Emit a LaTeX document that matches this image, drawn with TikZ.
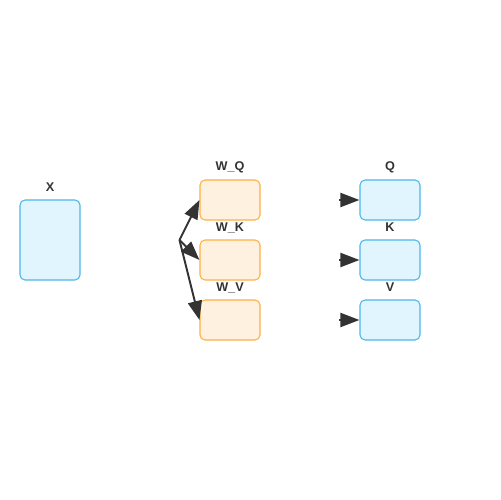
\documentclass[tikz,border=0pt]{standalone}
\usepackage{fontspec}
\setsansfont{Liberation Sans}
\usetikzlibrary{calc,arrows.meta}
\definecolor{inblue}{HTML}{4DB6E8}
\definecolor{infill}{HTML}{E1F5FE}
\definecolor{worange}{HTML}{FFAE42}
\definecolor{wfill}{HTML}{FFF1DF}
\definecolor{ink}{HTML}{333333}
\begin{document}
\begin{tikzpicture}[x=0.02cm, y=-0.02cm,
        flow/.style={draw=ink, line width=0.11em, -{Triangle[length=0.38cm,width=0.28cm]}},
    ]
    \useasboundingbox (0,0) rectangle (500,500);
    % input and outputs (blue)
    \tikzstyle{vec}=[draw=inblue, fill=infill, line width=0.06em, rounded corners=0.1cm, minimum width=1.2cm, minimum height=0.8cm, inner sep=0]
    % weight matrices (orange)
    \tikzstyle{wmat}=[draw=worange, fill=wfill, line width=0.06em, rounded corners=0.1cm, minimum width=1.2cm, minimum height=0.8cm, inner sep=0]
    % captions
    \tikzstyle{title}=[inner sep=0, text=ink, font=\fontsize{7.2}{9}\sffamily\bfseries]
    \node[vec, minimum height=1.6cm] (X) at (50,240) {};
    \node[wmat] (WQ) at (230,200) {};
    \node[wmat] (WK) at ($(WQ)+(0,60)$) {};
    \node[wmat] (WV) at ($(WK)+(0,60)$) {};
    \node[vec] (Q) at ($(WQ)+(160,0)$) {};
    \node[vec] (K) at ($(WK)+(160,0)$) {};
    \node[vec] (V) at ($(WV)+(160,0)$) {};
    \node[title] (Xl) at ($(X.north)+(0,-12)$) {X};
    \node[title] (WQl) at ($(WQ.north)+(0,-12)$) {W\_Q};
    \node[title] (WKl) at ($(WK.north)+(0,-12)$) {W\_K};
    \node[title] (WVl) at ($(WV.north)+(0,-12)$) {W\_V};
    \node[title] (Ql) at ($(Q.north)+(0,-12)$) {Q};
    \node[title] (Kl) at ($(K.north)+(0,-12)$) {K};
    \node[title] (Vl) at ($(V.north)+(0,-12)$) {V};
    \coordinate (fan) at ($(WK.west)+(-20,-20)$);
    \coordinate (qin) at ($(Q.west)+(-20,0)$);
    \coordinate (kin) at ($(K.west)+(-20,0)$);
    \coordinate (vin) at ($(V.west)+(-20,0)$);
    \draw[flow] (fan) -- (WQ.west);
    \draw[flow] (fan) -- (WK.west);
    \draw[flow] (fan) -- (WV.west);
    \draw[flow] (qin) -- (Q.west);
    \draw[flow] (kin) -- (K.west);
    \draw[flow] (vin) -- (V.west);
\end{tikzpicture}
\end{document}
